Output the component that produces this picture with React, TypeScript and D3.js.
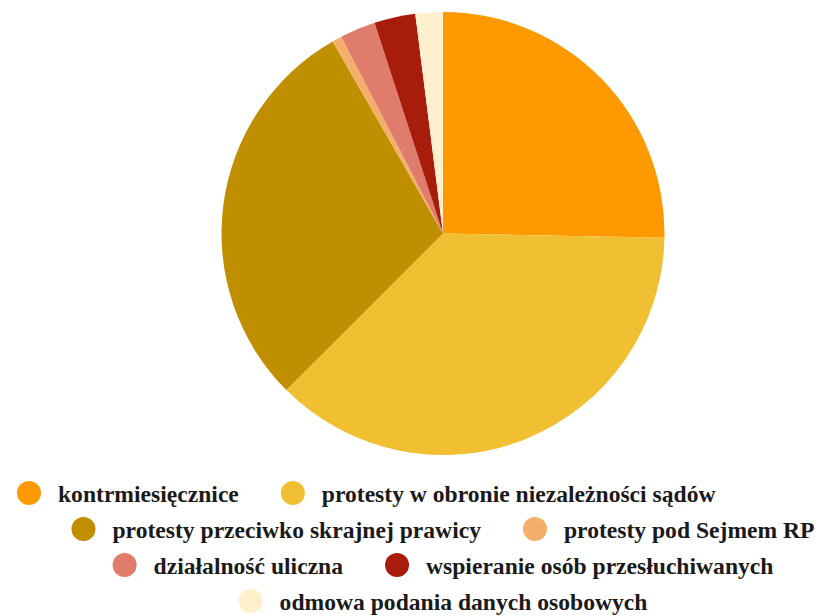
import React, { useEffect, useRef } from 'react'
import * as d3 from 'd3'

const categories = [
  'kontrmiesięcznice',
  'protesty w obronie niezależności sądów',
  'protesty przeciwko skrajnej prawicy',
  'protesty pod Sejmem RP',
  'działalność uliczna',
  'wspieranie osób przesłuchiwanych',
  'odmowa podania danych osobowych',
]
const values = [25.3, 37.2, 29.2, 0.7, 2.6, 3.0, 2.0]
const colors = ['#ff9900', '#f0c032', '#bf8f00', '#f4af6a', '#e07c6b', '#a81c0c', '#fff0cd']

// legend rows, by category index
const legendRows = [[0, 1], [2, 3], [4, 5], [6]]

export default function App() {
  const svgRef = useRef<SVGSVGElement>(null)

  useEffect(() => {
    if (!svgRef.current) return
    const svg = d3.select(svgRef.current)
    svg.selectAll('*').remove()

    const cx = 443
    const cy = 233.5
    const radius = 221.5

    const pie = d3.pie<number>().sort(null).value(d => d)
    const arc = d3.arc<d3.PieArcDatum<number>>().innerRadius(0).outerRadius(radius)

    const g = svg.append('g').attr('transform', `translate(${cx},${cy})`)
    g.selectAll('path')
      .data(pie(values))
      .join('path')
      .attr('d', arc)
      .attr('fill', (_, i) => colors[i])

    // Legend
    const dotR = 12
    const dotToText = 29
    const itemGap = 42
    const rowY = d3.scaleLinear().domain([0, 1]).range([493, 529])

    legendRows.forEach((row, r) => {
      const rowG = svg.append('g')
      let x = 0
      row.forEach(i => {
        const item = rowG.append('g').attr('transform', `translate(${x},0)`)
        item.append('circle')
          .attr('cx', dotR)
          .attr('cy', rowY(r))
          .attr('r', dotR)
          .attr('fill', colors[i])
        const t = item.append('text')
          .attr('x', dotR + dotToText)
          .attr('y', rowY(r) + 8.5)
          .style('font-family', "'Liberation Serif', 'DejaVu Serif', serif")
          .style('font-weight', 'bold')
          .style('font-size', '23.6px')
          .attr('fill', '#1a1a1a')
          .text(categories[i])
        const tw = (t.node() as SVGTextElement).getComputedTextLength()
        x += dotR + dotToText + tw + itemGap
      })
      const rowWidth = x - itemGap
      const left = r === 0 ? 17 : Math.max(17, cx - rowWidth / 2)
      rowG.attr('transform', `translate(${left},0)`)
    })
  }, [])

  return (
    <svg
      ref={svgRef}
      width={818}
      height={616}
      style={{ position: 'absolute', left: 0, top: 0, background: '#fff' }}
    />
  )
}
